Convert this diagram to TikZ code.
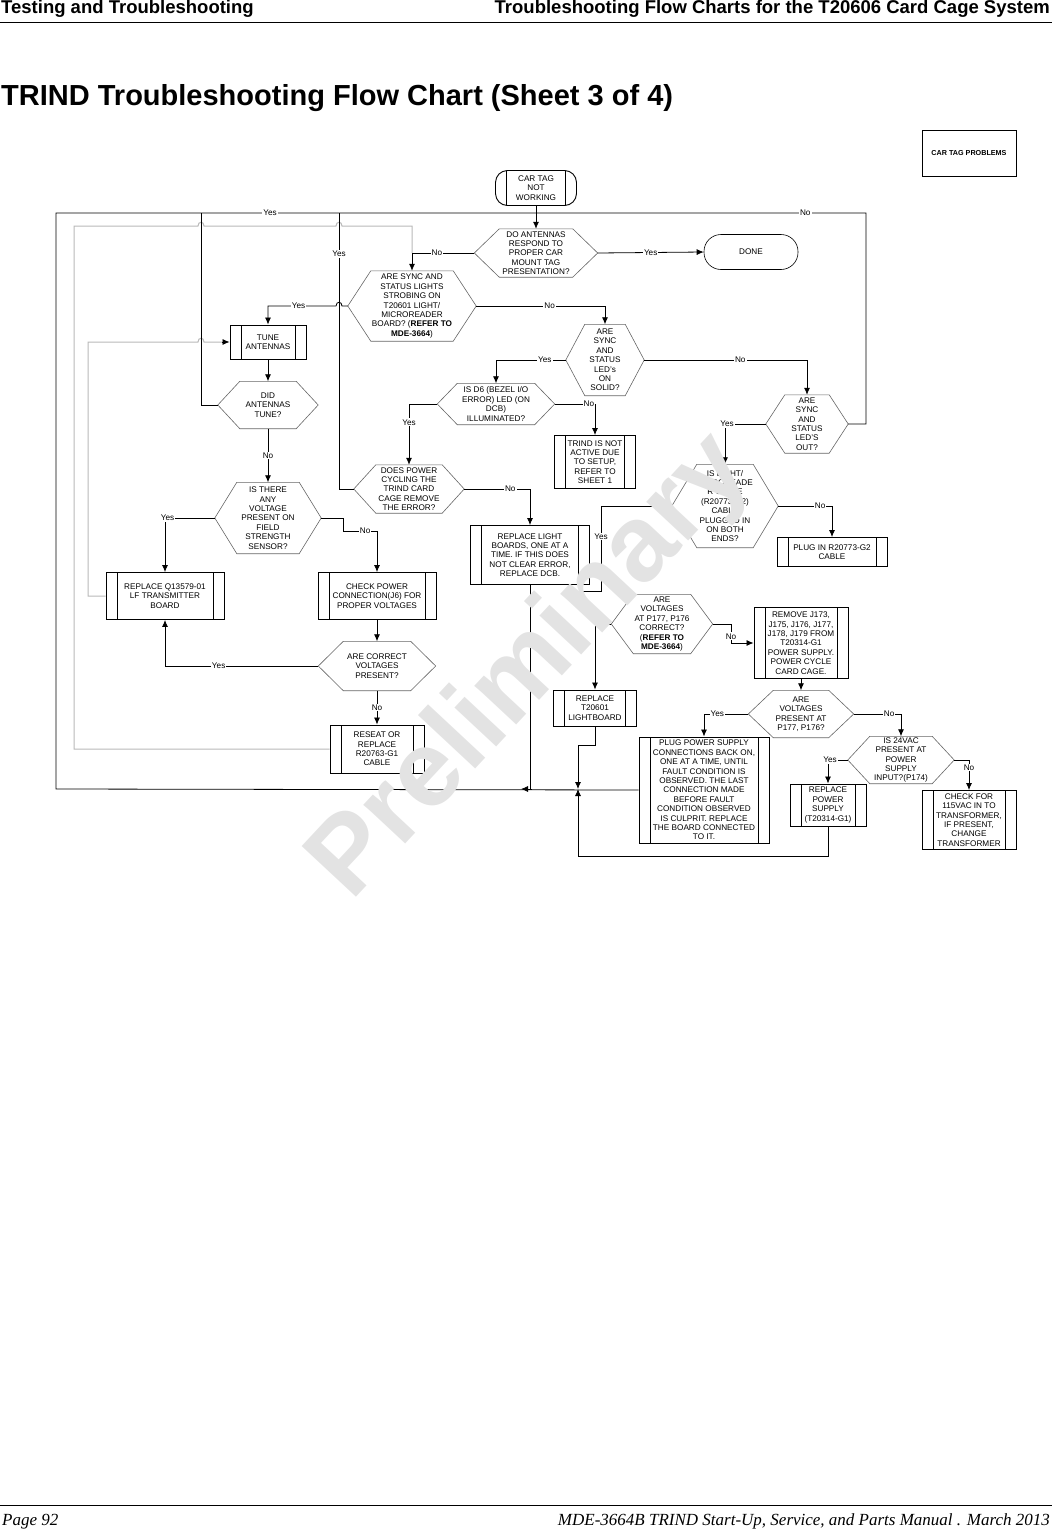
\documentclass[tikz,border=0pt]{standalone}
\usepackage{fontspec}
\setmainfont{Liberation Sans}
\newfontfamily\timesit{Liberation Serif}
\usetikzlibrary{arrows.meta,calc}
\tikzset{
  every node/.style={font=\fontsize{8.2}{9.4}\selectfont, align=center, inner sep=0pt},
  line/.style={black, line width=0.8pt},
  arr/.style={line, -{Latex[length=7pt,width=6pt]}},
  gry/.style={gray!55, line width=1pt},
  lbl/.style={fill=white, inner sep=1pt},
  proc/.style={draw, line width=0.9pt, path picture={
     \draw[line width=0.9pt] ([xshift=11pt]path picture bounding box.north west) -- ([xshift=11pt]path picture bounding box.south west);
     \draw[line width=0.9pt] ([xshift=-11pt]path picture bounding box.north east) -- ([xshift=-11pt]path picture bounding box.south east);}},
  term/.style={proc, rounded corners=12pt},
}
\newcommand\hexn[7]{% name cx cy w h inset text
  \node[minimum width=#4pt, minimum height=#5pt] (#1) at (#2,#3) {#7};
  \draw[line width=0.6pt, gray!80!black] (#1.west) -- ([xshift=#6pt]#1.north west) -- ([xshift=-#6pt]#1.north east) -- (#1.east) -- ([xshift=-#6pt]#1.south east) -- ([xshift=#6pt]#1.south west) -- cycle;}
\newcommand\prn[6]{\node[proc, minimum width=#4pt, minimum height=#5pt] (#1) at (#2,#3) {#6};}
\begin{document}
\begin{tikzpicture}[x=1pt,y=-1pt]
\useasboundingbox (0,0) rectangle (1052,1531);
% header / footer
\node[anchor=north west, font=\fontsize{18.5}{20}\selectfont\bfseries] (h1) at (1,0) {Testing and Troubleshooting};
\node[anchor=north east, font=\fontsize{18.5}{20}\selectfont\bfseries] (h2) at (1050,0) {Troubleshooting Flow Charts for the T20606 Card Cage System};
\draw[line width=0.8pt] (0,22) -- (1052,22);
\node[anchor=west, font=\fontsize{29}{31}\selectfont\bfseries] (title) at (1,98) {TRIND Troubleshooting Flow Chart (Sheet 3 of 4)};
\draw[line width=0.8pt] (0,1505) -- (1052,1505);
\node[anchor=base west, font=\fontsize{17}{18}\selectfont\timesit\itshape] (f1) at (2,1525) {Page 92};
\node[anchor=base east, font=\fontsize{17}{18}\selectfont\timesit\itshape] (f2) at (1050,1525) {MDE-3664B TRIND Start-Up, Service, and Parts Manual . March 2013};
% legend box
\node[draw, line width=0.6pt, minimum width=94pt, minimum height=46pt, font=\fontsize{7.2}{8}\selectfont\bfseries] (ctp) at (969,153) {CAR TAG PROBLEMS};
% terminals
\node[term, minimum width=81pt, minimum height=35pt] (car) at (536,188) {CAR TAG\\NOT\\WORKING};
\node[draw, line width=0.6pt, rounded corners=17pt, minimum width=94pt, minimum height=35pt] (done) at (751,252) {DONE};
% decisions
\hexn{doant}{536}{253}{123}{48}{25}{DO ANTENNAS\\RESPOND TO\\PROPER CAR\\MOUNT TAG\\PRESENTATION?}
\hexn{syncl}{412}{306}{128}{70}{23}{ARE SYNC AND\\STATUS LIGHTS\\STROBING ON\\T20601 LIGHT/\\MICROREADER\\BOARD? (\textbf{REFER TO}\\\textbf{MDE-3664})}
\hexn{solid}{605}{360}{78}{71}{19}{ARE\\SYNC\\AND\\STATUS\\LED's\\ON\\SOLID?}
\hexn{d6}{496}{404}{117}{41}{20}{IS D6 (BEZEL I/O\\ERROR) LED (ON\\DCB)\\ILLUMINATED?}
\hexn{out}{807}{424}{82}{58}{19}{ARE\\SYNC\\AND\\STATUS\\LED'S\\OUT?}
\hexn{did}{268}{405}{100}{47}{22}{DID\\ANTENNAS\\TUNE?}
\hexn{power}{409}{489}{110}{48}{22}{DOES POWER\\CYCLING THE\\TRIND CARD\\CAGE REMOVE\\THE ERROR?}
\hexn{volt}{268}{518}{106}{71}{22}{IS THERE\\ANY\\VOLTAGE\\PRESENT ON\\FIELD\\STRENGTH\\SENSOR?}
\hexn{cable}{725}{506}{106}{83}{25}{IS LIGHT/\\MICROREADE\\R CABLE\\(R20773-G2)\\CABLE\\PLUGGED IN\\ON BOTH\\ENDS?}
\hexn{corr}{377}{666}{117}{49}{25}{ARE CORRECT\\VOLTAGES\\PRESENT?}
\hexn{p177}{662}{624}{101}{59}{22}{ARE\\VOLTAGES\\AT P177, P176\\CORRECT?\\(\textbf{REFER TO}\\\textbf{MDE-3664})}
\hexn{pres}{801}{714}{105}{47}{25}{ARE\\VOLTAGES\\PRESENT AT\\P177, P176?}
\hexn{ac24}{901}{760}{106}{47}{22}{IS 24VAC\\PRESENT AT\\POWER\\SUPPLY\\INPUT?(P174)}
% processes
\prn{tune}{268}{342}{76}{34}{TUNE\\ANTENNAS}
\prn{trind}{595}{462}{81}{53}{TRIND IS NOT\\ACTIVE DUE\\TO SETUP,\\REFER TO\\SHEET 1}
\prn{rq}{165}{596}{118}{47}{REPLACE Q13579-01\\LF TRANSMITTER\\BOARD}
\prn{chk}{377}{596}{118}{47}{CHECK POWER\\CONNECTION(J6) FOR\\PROPER VOLTAGES}
\prn{rlb}{530}{555}{119}{59}{REPLACE LIGHT\\BOARDS, ONE AT A\\TIME. IF THIS DOES\\NOT CLEAR ERROR,\\REPLACE DCB.}
\prn{reseat}{377}{749}{94}{48}{RESEAT OR\\REPLACE\\R20763-G1\\CABLE}
\prn{plugin}{832}{552}{110}{29}{PLUG IN R20773-G2\\CABLE}
\prn{remove}{801}{643}{94}{71}{REMOVE J173,\\J175, J176, J177,\\J178, J179 FROM\\T20314-G1\\POWER SUPPLY.\\POWER CYCLE\\CARD CAGE.}
\prn{t206}{595}{708}{83}{36}{REPLACE\\T20601\\LIGHTBOARD}
\prn{plugps}{704}{790}{130}{106}{PLUG POWER SUPPLY\\CONNECTIONS BACK ON,\\ONE AT A TIME, UNTIL\\FAULT CONDITION IS\\OBSERVED. THE LAST\\CONNECTION MADE\\BEFORE FAULT\\CONDITION OBSERVED\\IS CULPRIT. REPLACE\\THE BOARD CONNECTED\\TO IT.}
\prn{rps}{828}{805}{76}{42}{REPLACE\\POWER\\SUPPLY\\(T20314-G1)}
\prn{chk115}{969}{820}{94}{59}{CHECK FOR\\115VAC IN TO\\TRANSFORMER,\\IF PRESENT,\\CHANGE\\TRANSFORMER}
% gray return lines
\draw[gry] (reseat.west) -- (74,749) -- (74,226) -- (198,226) .. controls (198,221) and (204,221) .. (204,226) -- (336,226) .. controls (336,221) and (342,221) .. (342,226) -- (412,226) -- (412,253);
\draw[gry] (rq.west) -- (88,596) -- (88,342) -- (198,342) .. controls (198,337) and (204,337) .. (204,342) -- (222,342);
\draw[arr] (222,342) -- (tune.west);
% main connectors
\draw[arr] (car) -- (doant);
\draw[arr] (doant.east) -- node[lbl]{Yes} (done.west);
\draw[arr] (doant.west) -- node[lbl,pos=0.6]{No} (syncl.north |- doant.west) -- (syncl.north);
\draw[arr] (syncl.east) -- node[lbl,pos=0.57]{No} (solid.north |- syncl.east) -- (solid.north);
\draw[arr] (syncl.west) -- (342,306) .. controls (342,301) and (336,301) .. (336,306) -- node[lbl,pos=0.55]{Yes} (tune.north |- syncl.west) -- (tune.north);
\draw[arr] (tune) -- (did);
\draw[line] (did.west) -- (201,405) -- (201,213);
\draw[arr] (did.south) -- node[lbl]{No} (volt.north);
\draw[arr] (volt.west) -- node[lbl,pos=0.95]{Yes} (rq.north |- volt.west) -- (rq.north);
\draw[arr] (volt.east) -- (343,518) -- (343,531) -- node[lbl,pos=0.65]{No} (chk.north |- 0,531) -- (chk.north);
\draw[arr] (chk) -- (corr);
\draw[arr] (corr.west) -- node[lbl,pos=0.65]{Yes} (rq.south |- corr.west) -- (rq.south);
\draw[arr] (corr.south) -- node[lbl]{No} (reseat.north);
\draw[arr] (solid.west) -- node[lbl,pos=0.3]{Yes} (d6.north |- solid.west) -- (d6.north);
\draw[arr] (solid.east) -- node[lbl,pos=0.59]{No} (out.north |- solid.east) -- (out.north);
\draw[arr] (d6.west) -- (power.north |- d6.west) -- node[lbl,pos=0.3]{Yes} (power.north);
\draw[arr] (d6.east) -- node[lbl,pos=0.85]{No} (trind.north |- d6.east) -- (trind.north);
\draw[arr] (out.west) -- node[lbl,pos=0.95]{Yes} (cable.north |- out.west) -- (cable.north);
\draw[line] (out.east) -- (866,424) -- (866,213) -- node[lbl,pos=0.075]{No} (56,213) -- (56,789) -- (plugps.west);
\node[lbl] (yestop) at (270,213) {Yes};
\draw[line] (power.west) -- (339,489) -- (339,213);
\node[lbl] (yesp) at (339,254) {Yes};
\draw[arr] (power.east) -- node[lbl,pos=0.7]{No} (rlb.north |- power.east) -- (rlb.north);
\draw[line] (rlb.south) -- (530,789);
\draw[arr] (532,789) -- (521,789);
\draw[arr] (cable.east) -- node[lbl,pos=0.78]{No} (plugin.north |- cable.east) -- (plugin.north);
\draw[arr] (cable.west) -- (601,506) -- node[lbl,pos=0.36]{Yes} (601,591) -- (566,591);
\draw[arr] (p177.west) -- (595,624) -- (t206.north);
\draw[arr] (p177.east) -- (731,624) -- node[lbl,pos=0.65]{No} (731,643) -- (remove.west);
\draw[arr] (remove) -- (pres);
\draw[arr] (pres.west) -- node[lbl,pos=0.7]{Yes} (plugps.north |- pres.west) -- (plugps.north);
\draw[arr] (pres.east) -- node[lbl,pos=0.75]{No} (ac24.north |- pres.east) -- (ac24.north);
\draw[arr] (ac24.west) -- node[lbl,pos=0.9]{Yes} (rps.north |- ac24.west) -- (rps.north);
\draw[arr] (ac24.east) -- (chk115.north |- ac24.east) -- node[lbl,pos=0.25]{No} (chk115.north);
\draw[arr] (t206.south) -- (595,745) -- (578,745) -- (578,789);
\draw[arr] (rps.south) -- (828,856) -- (578,856) -- (578,789);
% watermark
\node[rotate=47, text=gray!22, font=\fontsize{108}{110}\selectfont\bfseries] (wm) at (532,668) {Preliminary};
\end{tikzpicture}
\end{document}
